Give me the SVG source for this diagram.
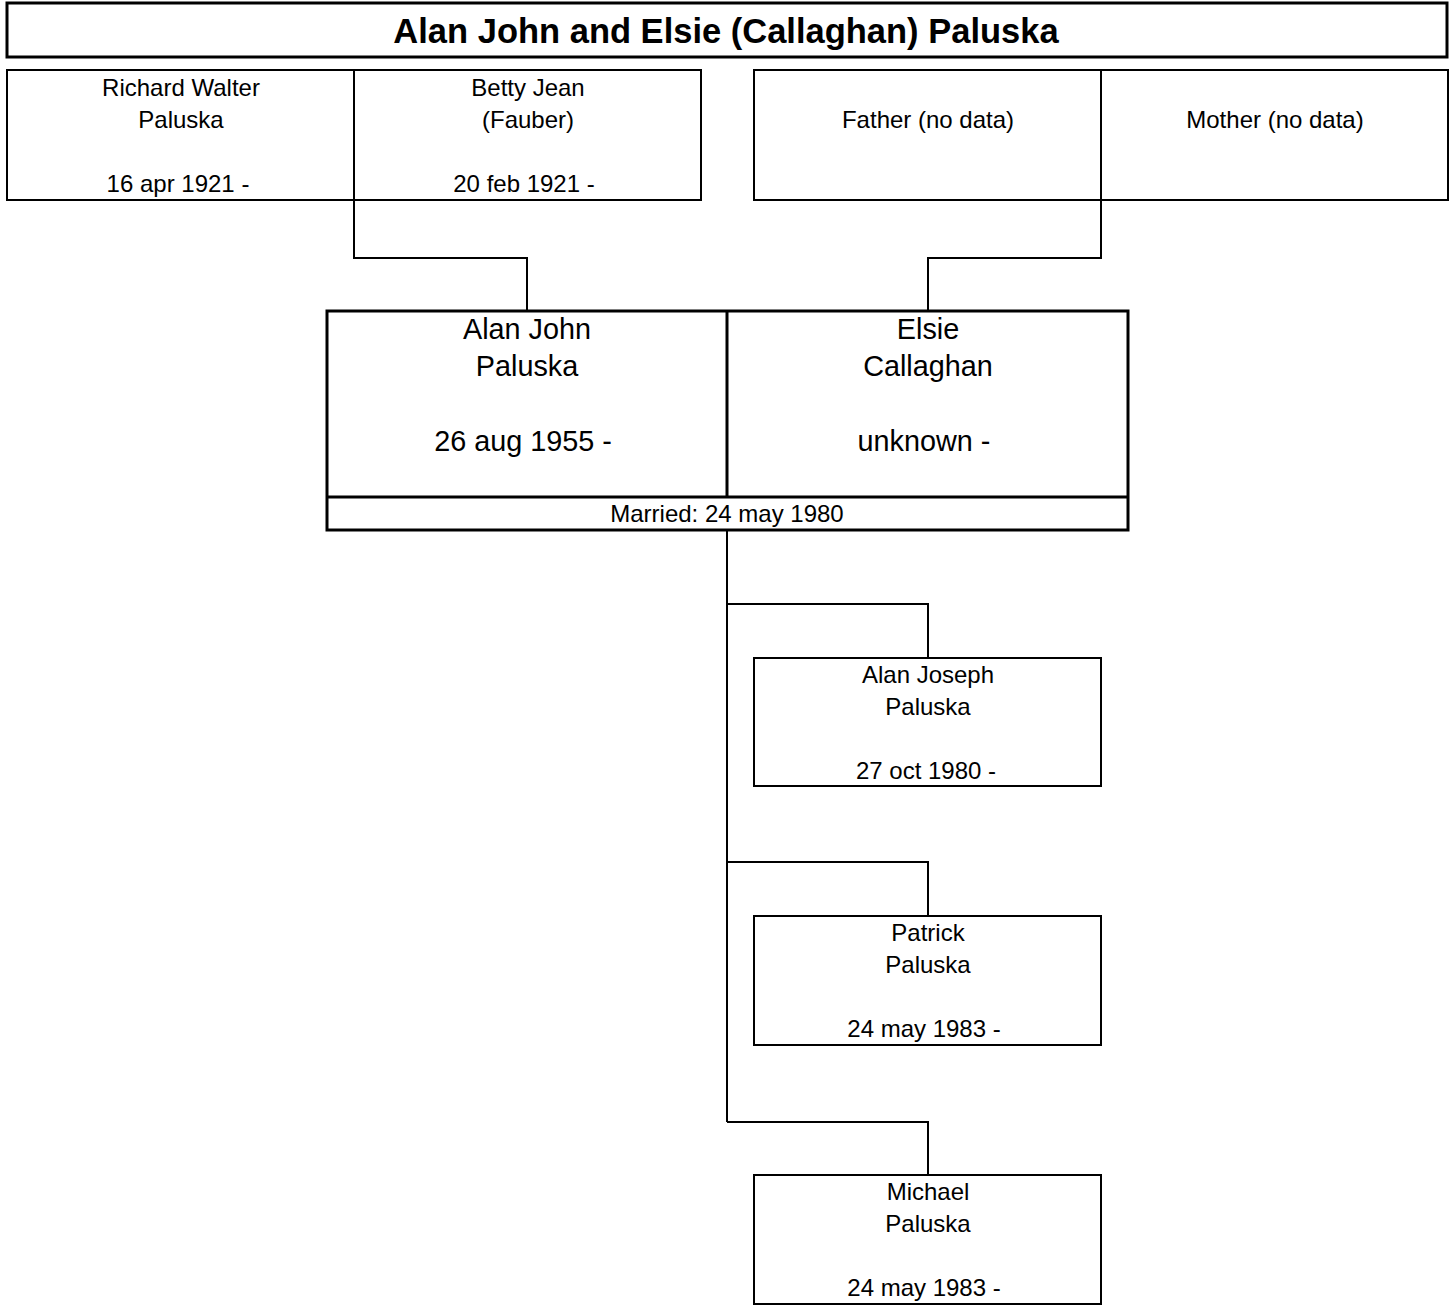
<svg xmlns="http://www.w3.org/2000/svg" width="1451" height="1305" viewBox="0 0 1451 1305">
<style>
.bg{fill:#fff}
.box{fill:#fff;stroke:#000;stroke-width:2}
.thick{fill:#fff;stroke:#000;stroke-width:3}
.ln{fill:none;stroke:#000;stroke-width:2}
.lnt{fill:none;stroke:#000;stroke-width:3}
text{font-family:"Liberation Sans",Arial,Helvetica,sans-serif;fill:#000;text-anchor:middle}
.t{font-size:34.5px;font-weight:bold}
.s{font-size:24px}
.m{font-size:28.8px}
</style>
<rect class="bg" x="0" y="0" width="1451" height="1305"/>
<g id="title">
<rect class="thick" x="7" y="3" width="1440" height="54"/>
<text class="t" x="726" y="43">Alan John and Elsie (Callaghan) Paluska</text>
</g>
<g id="connectors">
<path class="ln" d="M354 200 V258 H527 V311"/>
<path class="ln" d="M1101 200 V258 H928 V311"/>
<path class="ln" d="M727 530 V1122"/>
<path class="ln" d="M727 604 H928 V658"/>
<path class="ln" d="M727 862 H928 V916"/>
<path class="ln" d="M727 1122 H928 V1175"/>
</g>
<g id="father-parents">
<rect class="box" x="7" y="70" width="694" height="130"/>
<path class="ln" d="M354 70 V200"/>
</g>
<g id="richard">
<text class="s" x="181" y="96">Richard Walter</text>
<text class="s" x="181" y="128">Paluska</text>
<text class="s" x="178" y="192">16 apr 1921 -</text>
</g>
<g id="betty">
<text class="s" x="528" y="96">Betty Jean</text>
<text class="s" x="528" y="128">(Fauber)</text>
<text class="s" x="524" y="192">20 feb 1921 -</text>
</g>
<g id="mother-parents">
<rect class="box" x="754" y="70" width="694" height="130"/>
<path class="ln" d="M1101 70 V200"/>
</g>
<g id="father-nodata">
<text class="s" x="928" y="128">Father (no data)</text>
</g>
<g id="mother-nodata">
<text class="s" x="1275" y="128">Mother (no data)</text>
</g>
<g id="couple">
<rect class="thick" x="327" y="311" width="801" height="219"/>
<path class="lnt" d="M727 311 V497 M327 497 H1128"/>
<text class="s" x="727" y="522">Married: 24 may 1980</text>
</g>
<g id="alan-john">
<text class="m" x="527" y="339">Alan John</text>
<text class="m" x="527" y="376">Paluska</text>
<text class="m" x="523" y="451">26 aug 1955 -</text>
</g>
<g id="elsie">
<text class="m" x="928" y="339">Elsie</text>
<text class="m" x="928" y="376">Callaghan</text>
<text class="m" x="924" y="451">unknown -</text>
</g>
<g id="alan-joseph">
<rect class="box" x="754" y="658" width="347" height="128"/>
<text class="s" x="928" y="683">Alan Joseph</text>
<text class="s" x="928" y="715">Paluska</text>
<text class="s" x="926" y="779">27 oct 1980 -</text>
</g>
<g id="patrick">
<rect class="box" x="754" y="916" width="347" height="129"/>
<text class="s" x="928" y="941">Patrick</text>
<text class="s" x="928" y="973">Paluska</text>
<text class="s" x="924" y="1037">24 may 1983 -</text>
</g>
<g id="michael">
<rect class="box" x="754" y="1175" width="347" height="129"/>
<text class="s" x="928" y="1200">Michael</text>
<text class="s" x="928" y="1232">Paluska</text>
<text class="s" x="924" y="1296">24 may 1983 -</text>
</g>
</svg>
